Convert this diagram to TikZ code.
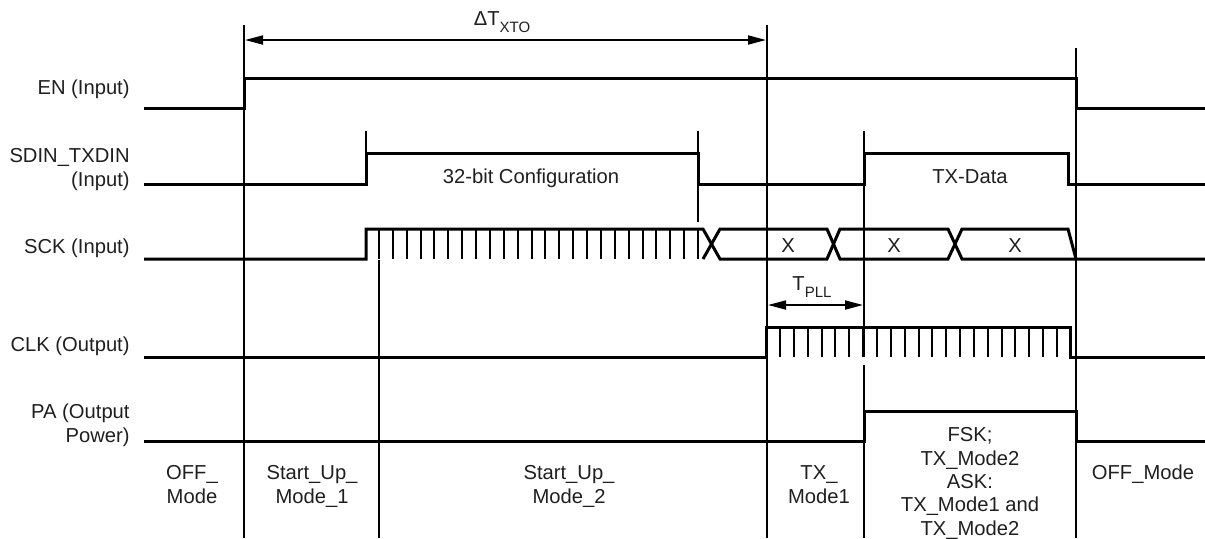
\documentclass[tikz,border=0pt]{standalone}
\usepackage{fontspec}
\setmainfont{Liberation Sans}
\usetikzlibrary{arrows.meta}
\newcommand{\subtx}[1]{\raisebox{-3.5pt}{\fontsize{7.5}{9}\selectfont #1}}
\begin{document}
\begin{tikzpicture}[x=0.5pt,y=-0.5pt,
  sig/.style={line width=1.5pt, line join=miter},
  guide/.style={line width=1pt},
  tickline/.style={line width=1pt},
  lbl/.style={inner sep=0pt, font=\fontsize{10.1}{12}\selectfont, text=black!88},
  lblb/.style={inner sep=0pt, font=\fontsize{10.1}{11.65}\selectfont, text=black!88},
  dim/.style={line width=0.9pt, {Triangle[length=9pt,width=4.5pt]}-{Triangle[length=9pt,width=4.5pt]}},
]
\useasboundingbox (0,0) rectangle (1205,538);

% guide lines
\draw[guide] (244,25) -- (244,538);
\draw[guide] (767,25) -- (767,538);
\draw[guide] (1076,48) -- (1076,538);
\draw[guide] (379,260) -- (379,538);
\draw[guide] (864,131) -- (864,357);
\draw[guide] (864,365) -- (864,538);
\draw[guide] (366,131) -- (366,153);
\draw[guide] (698,131) -- (698,222);

% EN
\draw[sig] (144,108) -- (244,108) -- (244,78) -- (1076,78) -- (1076,108) -- (1205,108);
% SDIN_TXDIN
\draw[sig] (144,184) -- (366,184) -- (366,153) -- (698,153) -- (698,184) -- (864,184)
  -- (864,153) -- (1068,153) -- (1068,184) -- (1205,184);
% SCK
\draw[sig] (144,259) -- (366,259) -- (366,229) -- (703,229) -- (720,259) -- (827,259)
  -- (840,229) -- (948,229) -- (962,259) -- (1205,259);
\draw[sig] (703,259) -- (720,229) -- (827,229) -- (840,259) -- (948,259) -- (962,229)
  -- (1068,229) -- (1076,259);
\foreach \k in {0,...,23} \draw[tickline] ({379+13.87*\k},229) -- ++(0,30);
% CLK
\draw[sig] (144,357) -- (766,357) -- (766,327) -- (1070,327) -- (1070,357) -- (1205,357);
\foreach \k in {0,...,20} \draw[tickline] ({780+13.85*\k},327) -- ++(0,30);
% PA
\draw[sig] (144,441) -- (864,441) -- (864,411) -- (1076,411) -- (1076,441) -- (1205,441);

% dimension arrows
\coordinate (dtL) at (245,40);
\coordinate (dtR) at (766,40);
\draw[dim] (dtL) -- (dtR);
\coordinate (plL) at (768,305);
\coordinate (plR) at (863,305);
\draw[dim] (plL) -- (plR);
\node[lbl, anchor=base] (dtxto) at (502,25) {ΔT\subtx{XTO}};
\node[lbl, anchor=base] (tpll) at (812,290) {T\subtx{PLL}};

% signal names
\node[lbl, anchor=base east] (en) at (130,94) {EN (Input)};
\node[lbl, anchor=base east, align=right] (sdin) at (130,186) {SDIN\_TXDIN\\(Input)};
\node[lbl, anchor=base east] (sck) at (130,253) {SCK (Input)};
\node[lbl, anchor=base east] (clk) at (130,351) {CLK (Output)};
\node[lbl, anchor=base east, align=right] (pa) at (130,442) {PA (Output\\Power)};

% in-waveform labels
\node[lbl, anchor=base] (cfg) at (531,183) {32-bit Configuration};
\node[lbl, anchor=base] (txd) at (970,183) {TX-Data};
\node[lbl, anchor=base] (x1) at (788,252) {X};
\node[lbl, anchor=base] (x2) at (894,252) {X};
\node[lbl, anchor=base] (x3) at (1015,252) {X};

% mode labels
\node[lbl, anchor=base, align=center] (m1) at (192,503) {OFF\_\\Mode};
\node[lbl, anchor=base, align=center] (m2) at (312,503) {Start\_Up\_\\Mode\_1};
\node[lbl, anchor=base, align=center] (m3) at (569,503) {Start\_Up\_\\Mode\_2};
\node[lbl, anchor=base, align=center] (m4) at (819,503) {TX\_\\Mode1};
\node[lblb, anchor=base, align=center] (m5) at (970,535) {FSK;\\TX\_Mode2\\ASK:\\TX\_Mode1 and\\TX\_Mode2};
\node[lbl, anchor=base] (m6) at (1143,479) {OFF\_Mode};
\end{tikzpicture}
\end{document}
